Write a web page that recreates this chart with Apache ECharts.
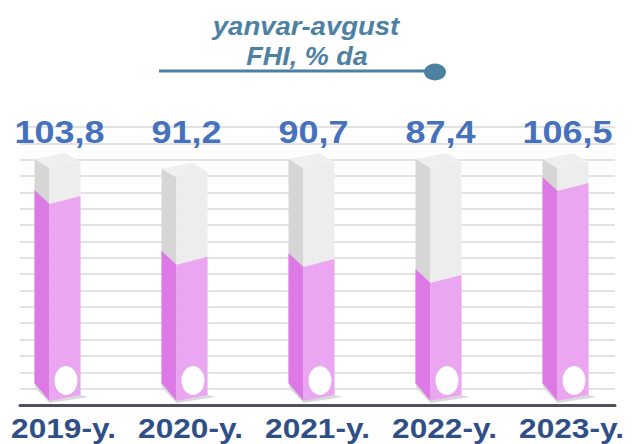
<!DOCTYPE html>
<html>
<head>
<meta charset="utf-8">
<script src="https://cdn.jsdelivr.net/npm/echarts@6/dist/echarts.min.js"></script>
<style>
  html, body { margin: 0; padding: 0; background: #ffffff; }
  #chart { width: 635px; height: 444px; }
</style>
</head>
<body>
<div id="chart"></div>
<script>
// Period labels and the growth index (% of the same period a year earlier)
const categories = ['2019-y.', '2020-y.', '2021-y.', '2022-y.', '2023-y.'];
const values = [103.8, 91.2, 90.7, 87.4, 106.5];
// Height of the light grey track behind each column
const trackTops = [111.1, 109.1, 111.1, 111.1, 111.1];
const titleLines = ['yanvar-avgust', 'FHI, % da'];

// Value axis range shared by both grids
const axisMin = 61.2;
const axisMax = 119;
const axisStep = 3.4;

const fmt = v => v.toFixed(1).replace('.', ',');

const chart = echarts.init(document.getElementById('chart'), null, { renderer: 'svg' });

const labelFont = {
  fontFamily: '"Liberation Sans", Arial, sans-serif',
  fontWeight: 'bold'
};

function renderColumn(params, api) {
  const i = api.value(0);
  const v = api.value(1);
  const t = api.value(2);
  const topPt = api.coord([i, v]);
  const cx0 = topPt[0];
  const yv = topPt[1];
  const yt = api.coord([i, t])[1];
  const base = api.coord([i, axisMin])[1];

  // prism footprint: left side face, front face
  const cx = cx0 - 6;
  const L = cx - 23, M = cx - 8, R = cx + 23;
  const bL = base - 22, bF = base - 4, bR = base - 10;

  const poly = (points, fill) => ({ type: 'polygon', shape: { points }, style: { fill } });

  return {
    type: 'group',
    children: [
      // floor shadow
      poly([[L, bL], [L + 1, bL + 5], [M, bF + 2], [R + 8, bR + 2], [R, bR]], '#d9d9d9'),
      // grey track
      poly([[L, yt - 6], [M, yt + 3], [M, bF], [L, bL]], '#d6d6d6'),
      poly([[M, yt + 3], [R, yt - 3], [R, bR], [M, bF]], '#ededed'),
      poly([[L, yt - 6], [cx + 8, yt - 12], [R, yt - 3], [M, yt + 3]], '#efefef'),
      // value fill
      poly([[L, yv - 10], [M, yv + 4], [M, bF], [L, bL]], '#dc79e5'),
      poly([[M, yv + 4], [R, yv - 4], [R, bR], [M, bF]], '#eaa6f1'),
      // white disc near the foot
      {
        type: 'circle', x: cx + 8.5, y: base - 24.5, scaleY: 14.5 / 11.5,
        shape: { cx: 0, cy: 0, r: 11.5 }, style: { fill: '#ffffff' }
      },
      // value label
      {
        type: 'text', x: cx0 - 4, y: params.coordSys.y + 5, scaleX: 1.16,
        style: Object.assign({
          text: fmt(v), fill: '#4571bd', fontSize: 31,
          align: 'center', verticalAlign: 'middle'
        }, labelFont)
      },
      // period label
      {
        type: 'text', x: cx0, y: base + 23, scaleX: 1.13,
        style: Object.assign({
          text: categories[i], fill: '#2f4f86', fontSize: 28,
          align: 'center', verticalAlign: 'middle'
        }, labelFont)
      }
    ]
  };
}

const titleColor = '#4d81a2';

chart.setOption({
  backgroundColor: '#ffffff',
  animation: false,
  grid: [
    { left: 20, right: 20, top: 127, bottom: 39 },
    { left: 0, width: 642, top: 127, bottom: 39 }
  ],
  xAxis: [
    {
      gridIndex: 0, type: 'category', data: categories,
      axisLabel: { show: false }, axisTick: { show: false },
      axisLine: { onZero: false, lineStyle: { color: '#50505c', width: 3, cap: 'round' } }
    },
    {
      gridIndex: 1, type: 'category', data: categories,
      axisLabel: { show: false }, axisTick: { show: false }, axisLine: { show: false }
    }
  ],
  yAxis: [
    {
      gridIndex: 0, type: 'value', min: axisMin, max: axisMax, interval: axisStep,
      axisLabel: { show: false }, axisTick: { show: false }, axisLine: { show: false },
      splitLine: { show: true, lineStyle: { color: '#e2e2e2', width: 2 } }
    },
    {
      gridIndex: 1, type: 'value', min: axisMin, max: axisMax, interval: axisStep,
      axisLabel: { show: false }, axisTick: { show: false }, axisLine: { show: false },
      splitLine: { show: false }
    }
  ],
  series: [
    {
      type: 'custom',
      xAxisIndex: 1,
      yAxisIndex: 1,
      clip: false,
      renderItem: renderColumn,
      encode: { x: 0, y: 1 },
      data: values.map((v, i) => [i, v, trackTops[i]])
    }
  ],
  graphic: [
    {
      type: 'line', shape: { x1: 159, y1: 71, x2: 428, y2: 71 },
      style: { stroke: titleColor, lineWidth: 3 }
    },
    {
      type: 'circle', x: 435, y: 72, scaleY: 8.5 / 11,
      shape: { cx: 0, cy: 0, r: 11 }, style: { fill: titleColor }
    },
    {
      type: 'text', x: 306, y: 26, scaleX: 1.1,
      style: {
        text: titleLines[0], fill: titleColor, fontSize: 25, fontStyle: 'italic',
        fontWeight: 'bold', fontFamily: '"Liberation Sans", Arial, sans-serif',
        align: 'center', verticalAlign: 'middle'
      }
    },
    {
      type: 'text', x: 307, y: 56, scaleX: 1.08,
      style: {
        text: titleLines[1], fill: titleColor, fontSize: 25, fontStyle: 'italic',
        fontWeight: 'bold', fontFamily: '"Liberation Sans", Arial, sans-serif',
        align: 'center', verticalAlign: 'middle'
      }
    }
  ]
});
</script>
</body>
</html>
